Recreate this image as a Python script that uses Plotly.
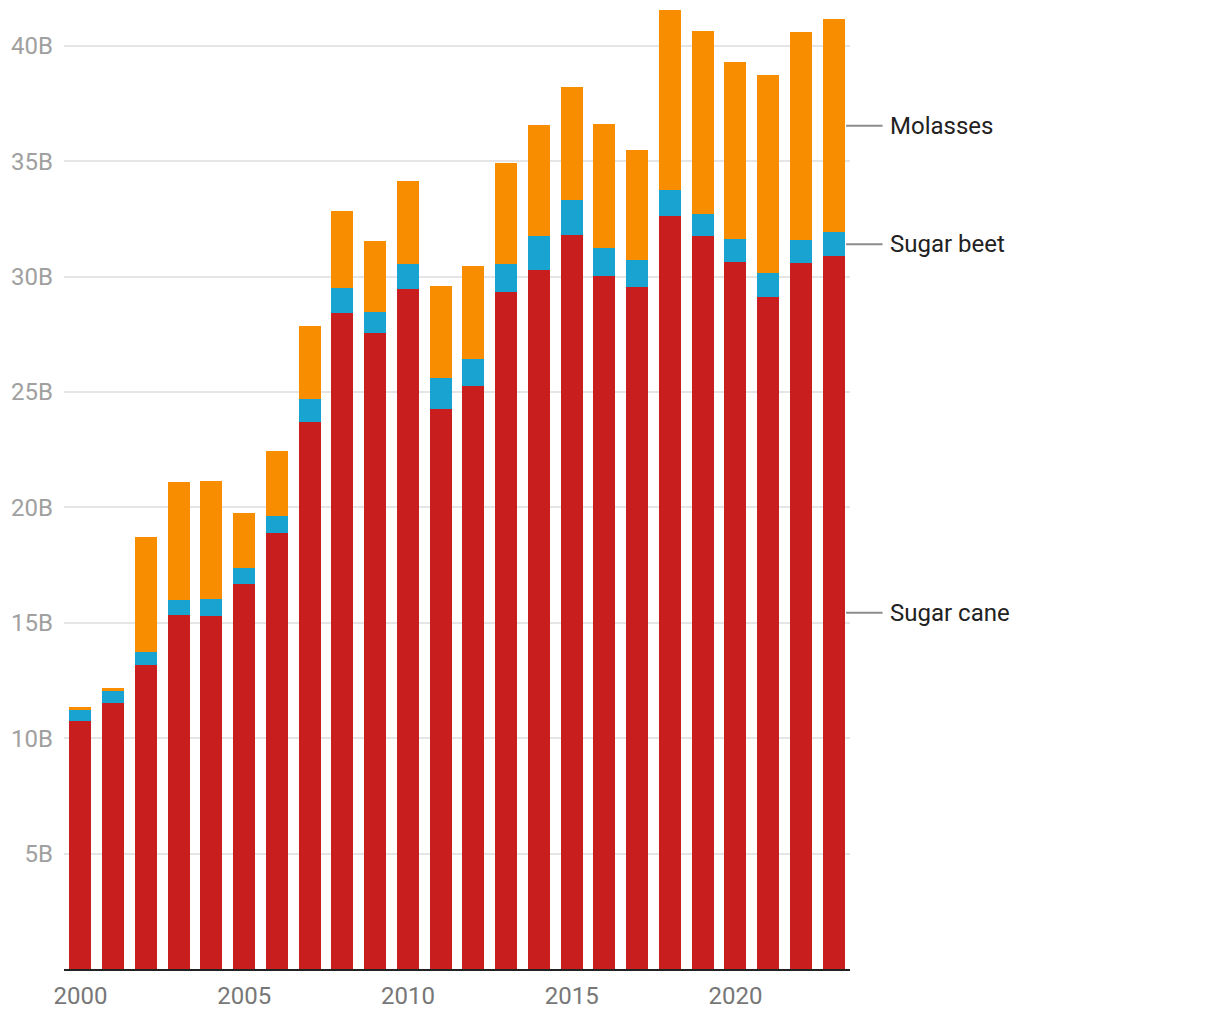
import plotly.graph_objects as go

years = list(range(2000, 2024))
sugar_cane = [10.73, 11.51, 13.16, 15.32, 15.28, 16.67, 18.88, 23.69, 28.41, 27.55,
              29.46, 24.26, 25.25, 29.32, 30.28, 31.79, 30.02, 29.54, 32.62, 31.75,
              30.62, 29.11, 30.58, 30.88]
sugar_beet = [0.48, 0.52, 0.57, 0.65, 0.74, 0.69, 0.74, 1.00, 1.09, 0.91,
              1.08, 1.34, 1.17, 1.22, 1.47, 1.52, 1.21, 1.17, 1.12, 0.96,
              1.00, 1.04, 1.00, 1.04]
molasses = [0.13, 0.13, 4.97, 5.12, 5.11, 2.41, 2.81, 3.16, 3.33, 3.07,
            3.60, 3.98, 4.03, 4.38, 4.81, 4.90, 5.37, 4.77, 7.81, 7.93,
            7.67, 8.58, 9.02, 9.24]
y_tickvals = [5, 10, 15, 20, 25, 30, 35, 40]
y_ticktext = ["5B", "10B", "15B", "20B", "25B", "30B", "35B", "40B"]
x_tickvals = [2000, 2005, 2010, 2015, 2020]

RED = "#c81e1e"
BLUE = "#19a3d0"
ORANGE = "#f98d00"
FONT = "Roboto"

fig = go.Figure()
series = [("Sugar cane", sugar_cane, RED), ("Sugar beet", sugar_beet, BLUE), ("Molasses", molasses, ORANGE)]
for name, vals, col in series:
    fig.add_trace(go.Bar(x=years, y=vals, name=name, marker=dict(color=col, line=dict(width=0))))

totals = [a + b + c for a, b, c in zip(sugar_cane, sugar_beet, molasses)]
ymax = max(totals)

# right-side labels at midpoints of the last bar's segments
base = 0
for name, vals, col in series:
    v = vals[-1]
    mid = base + v / 2
    base += v
    fig.add_shape(type="line", xref="paper", yref="y", x0=0.9950, x1=1.0414, y0=mid, y1=mid,
                  line=dict(color="#8c8c8c", width=2))
    fig.add_annotation(xref="paper", yref="y", x=1.0480, y=mid, text=name, showarrow=False,
                       xanchor="left", yanchor="middle",
                       font=dict(family=FONT, size=24, color="#222222"))

fig.update_layout(
    barmode="stack",
    bargap=0.33,
    width=1220, height=1020,
    margin=dict(l=56, r=378, t=2, b=59),
    plot_bgcolor="white", paper_bgcolor="white",
    showlegend=False,
    font=dict(family=FONT),
)
fig.update_xaxes(range=[1999.5, 2023.5], tickvals=x_tickvals, showgrid=False,
                 showline=True, linecolor="#222222", linewidth=2,
                 tickfont=dict(family=FONT, size=24, color="#777777"), ticks="", zeroline=False,
                 ticklabelstandoff=4)
fig.update_yaxes(range=[0, ymax], tickvals=y_tickvals, ticktext=y_ticktext,
                 showgrid=True, gridcolor="#e5e5e5", gridwidth=2, zeroline=False,
                 tickfont=dict(family=FONT, size=24, color="#a0a0a0"), ticks="",
                 ticklabelstandoff=10)

fig.write_html("out.html")
